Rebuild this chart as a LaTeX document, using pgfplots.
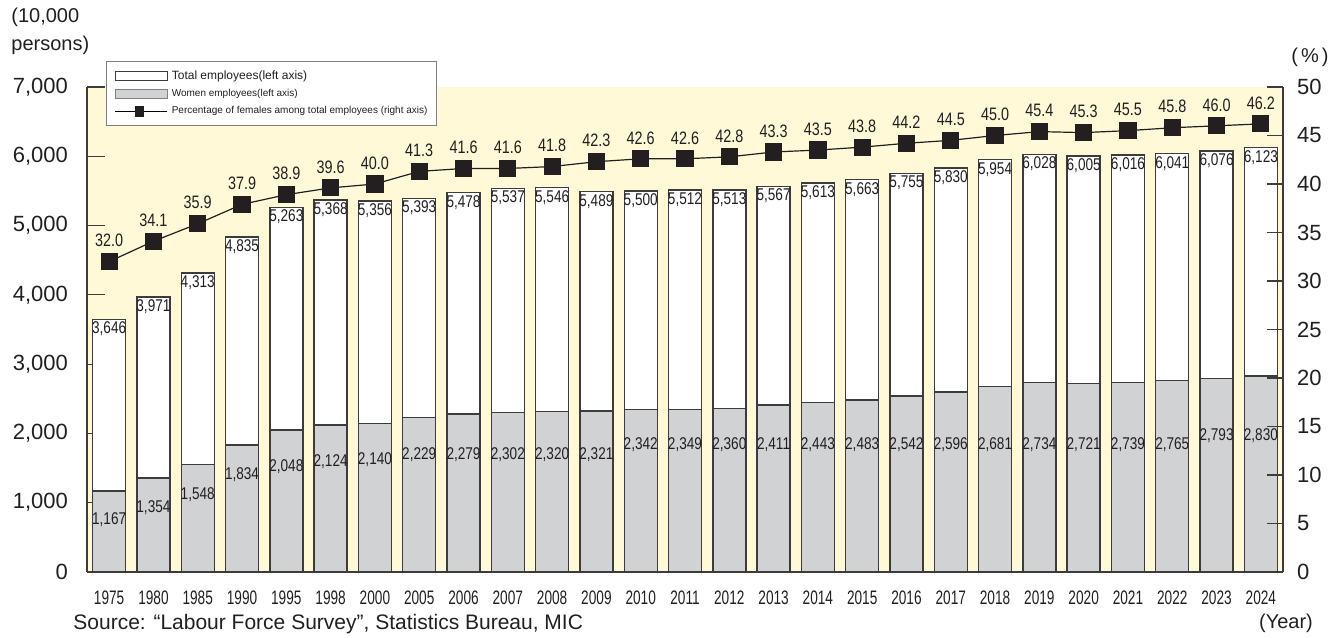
\documentclass[border=0pt]{standalone}
\usepackage{fontspec}
\setmainfont{Liberation Sans}
\newfontfamily\cond[FakeStretch=0.8]{Liberation Sans}
\newfontfamily\condy[FakeStretch=0.7]{Liberation Sans}
\usepackage{pgfplots}
\usepackage{pgfplotstable}
\pgfplotsset{compat=1.18}
\definecolor{bg}{RGB}{255,249,215}
\definecolor{wgray}{RGB}{209,210,212}
\definecolor{edge}{RGB}{60,60,60}
\definecolor{txt}{RGB}{35,31,32}

\pgfplotstableread{
x year total women wlab pct
0 1975 3646 1167 750 32.0
1 1980 3971 1354 924 34.1
2 1985 4313 1548 1111 35.9
3 1990 4835 1834 1400 37.9
4 1995 5263 2048 1516 38.9
5 1998 5368 2124 1588 39.6
6 2000 5356 2140 1616 40.0
7 2005 5393 2229 1689 41.3
8 2006 5478 2279 1689 41.6
9 2007 5537 2302 1689 41.6
10 2008 5546 2320 1689 41.8
11 2009 5489 2321 1689 42.3
12 2010 5500 2342 1833 42.6
13 2011 5512 2349 1833 42.6
14 2012 5513 2360 1833 42.8
15 2013 5567 2411 1833 43.3
16 2014 5613 2443 1833 43.5
17 2015 5663 2483 1833 43.8
18 2016 5755 2542 1833 44.2
19 2017 5830 2596 1833 44.5
20 2018 5954 2681 1833 45.0
21 2019 6028 2734 1833 45.4
22 2020 6005 2721 1833 45.3
23 2021 6016 2739 1833 45.5
24 2022 6041 2765 1833 45.8
25 2023 6076 2793 1963 46.0
26 2024 6123 2830 1963 46.2
}\data

\begin{document}
\begin{tikzpicture}
\useasboundingbox (-43.5pt,-32.5pt) rectangle (627.5pt,286pt);
\begin{axis}[
  at={(0,0)}, anchor=south west,
  width=598pt, height=242.5pt, scale only axis,
  xmin=-0.5, xmax=26.5, ymin=0, ymax=7000,
  axis x line*=bottom, axis y line*=left,
  axis line style={edge, line width=0.8pt, -},
  axis background/.style={fill=bg},
  ytick={0,1000,...,7000},
  scaled y ticks=false,
  xtick={0,...,26},
  xticklabels from table={\data}{year},
  minor xtick={0.5,1.5,...,25.5},
  xtick style={draw=none},
  minor x tick style={edge, line width=0.6pt},
  ytick style={edge, line width=0.6pt},
  tick align=inside,
  major tick length=9pt,
  minor tick length=4pt,
  yticklabel style={font=\fontsize{11}{13}\selectfont, text=txt, xshift=-6pt},
  xticklabel style={font=\condy\fontsize{9.75}{11}\selectfont, text=txt, yshift=-6pt},
  /pgf/number format/1000 sep={,},
  /pgf/number format/assume math mode=true,
  legend cell align=left,
  legend style={at={(axis description cs:0.0159,1.0536)}, anchor=north west,
    draw=gray, fill=white, line width=0.6pt, inner xsep=4pt, inner ysep=3.8pt,
    row sep=2.4pt, font=\fontsize{5}{6}\selectfont, text=txt,
    nodes={inner sep=0.6pt},
    /tikz/every odd column/.append style={column sep=1.5pt}},
]
\addlegendimage{legend image code/.code={\draw[fill=white,draw=edge,line width=0.5pt] (0pt,-2.25pt) rectangle (26pt,2.25pt);}}
\addlegendentry{\fontsize{6}{7}\selectfont Total employees(left axis)}
\addlegendimage{legend image code/.code={\draw[fill=wgray,draw=gray,line width=0.5pt] (0pt,-2.25pt) rectangle (26pt,2.25pt);}}
\addlegendentry{Women employees(left axis)}
\addlegendimage{legend image code/.code={\draw[black,line width=0.5pt] (0pt,0pt)--(26pt,0pt); \fill[txt] (10pt,-2.5pt) rectangle (14pt,2.5pt);}}
\addlegendentry{Percentage of females among total employees (right axis)}

\addplot[forget plot, ybar, bar width=16.5pt, bar shift=0pt, fill=white, draw=edge, line width=0.7pt,
  nodes near coords, nodes near coords align={below},
  nodes near coords style={font=\cond\fontsize{8.5}{10}\selectfont, text=txt, inner sep=1pt}]
  table[x=x, y=total]{\data};
\addplot[forget plot, ybar, bar width=16.5pt, bar shift=0pt, fill=wgray, draw=edge, line width=0.7pt]
  table[x=x, y=women]{\data};
\addplot[forget plot, draw=none, mark=none, point meta=explicit,
  nodes near coords, nodes near coords align={center},
  nodes near coords style={font=\cond\fontsize{8.5}{10}\selectfont, text=txt, inner sep=0pt, anchor=center}]
  table[x=x, y=wlab, meta=women]{\data};
\end{axis}

\begin{axis}[
  at={(0,0)}, anchor=south west,
  width=598pt, height=242.5pt, scale only axis,
  xmin=-0.5, xmax=26.5, ymin=0, ymax=50,
  axis y line*=right, axis x line=none,
  axis line style={edge, line width=0.8pt, -},
  ytick={0,5,...,50},
  ytick style={edge, line width=0.6pt},
  tick align=inside,
  major tick length=8pt,
  yticklabel style={font=\fontsize{11}{13}\selectfont, text=txt, xshift=3.5pt},
  /pgf/number format/assume math mode=true,
]
\addplot[txt, line width=0.6pt, mark=square*, mark size=4pt, mark options={fill=txt, draw=txt},
  nodes near coords, point meta=y,
  nodes near coords style={font=\cond\fontsize{9}{10}\selectfont, text=txt, inner sep=0pt, anchor=south, yshift=7pt,
    /pgf/number format/fixed, /pgf/number format/fixed zerofill, /pgf/number format/precision=1}]
  table[x=x, y=pct]{\data};
\end{axis}

\node[anchor=west, inner sep=0pt, font=\fontsize{10}{12}\selectfont, text=txt] at (-38pt,277.5pt) {(10,000};
\node[anchor=west, inner sep=0pt, font=\fontsize{10}{12}\selectfont, text=txt] at (-38pt,263.5pt) {persons)};
\node[inner sep=0pt, font=\fontsize{10}{12}\selectfont, text=txt] at (611.5pt,257.5pt) {(\hspace{1.5pt}\%\hspace{1.5pt})};
\node[inner sep=0pt, font=\fontsize{10}{12}\selectfont, text=txt] at (599.5pt,-25.5pt) {(Year)};
\node[anchor=west, inner sep=0pt, font=\fontsize{10.5}{12}\selectfont, text=txt] at (-7pt,-26pt) {Source: “Labour Force Survey”, Statistics Bureau, MIC};
\end{tikzpicture}
\end{document}
